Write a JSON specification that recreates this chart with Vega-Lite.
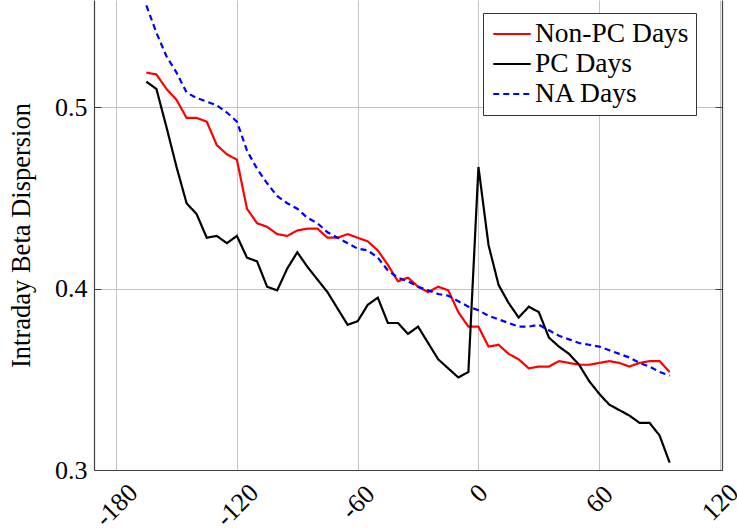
{
  "$schema": "https://vega.github.io/schema/vega-lite/v6.json",
  "width": 628,
  "height": 470,
  "autosize": {"type": "none"},
  "padding": {"left": 94, "top": 0, "right": 15, "bottom": 61},
  "config": {
    "view": {"stroke": null},
    "font": "Liberation Serif",
    "axis": {
      "domainColor": "#404040",
      "domainWidth": 1.2,
      "gridColor": "#c4c4c4",
      "gridWidth": 1,
      "tickColor": "#404040",
      "labelColor": "#000000",
      "titleColor": "#000000",
      "labelFont": "Liberation Serif",
      "titleFont": "Liberation Serif"
    }
  },
  "data": {
    "values": [
      {"day": -165, "series": "Non-PC Days", "value": 0.519},
      {"day": -160, "series": "Non-PC Days", "value": 0.518},
      {"day": -155, "series": "Non-PC Days", "value": 0.510},
      {"day": -150, "series": "Non-PC Days", "value": 0.504},
      {"day": -145, "series": "Non-PC Days", "value": 0.494},
      {"day": -140, "series": "Non-PC Days", "value": 0.494},
      {"day": -135, "series": "Non-PC Days", "value": 0.492},
      {"day": -130, "series": "Non-PC Days", "value": 0.479},
      {"day": -125, "series": "Non-PC Days", "value": 0.474},
      {"day": -120, "series": "Non-PC Days", "value": 0.471},
      {"day": -115, "series": "Non-PC Days", "value": 0.444},
      {"day": -110, "series": "Non-PC Days", "value": 0.436},
      {"day": -105, "series": "Non-PC Days", "value": 0.434},
      {"day": -100, "series": "Non-PC Days", "value": 0.430},
      {"day": -95, "series": "Non-PC Days", "value": 0.429},
      {"day": -90, "series": "Non-PC Days", "value": 0.432},
      {"day": -85, "series": "Non-PC Days", "value": 0.433},
      {"day": -80, "series": "Non-PC Days", "value": 0.433},
      {"day": -75, "series": "Non-PC Days", "value": 0.428},
      {"day": -70, "series": "Non-PC Days", "value": 0.428},
      {"day": -65, "series": "Non-PC Days", "value": 0.430},
      {"day": -60, "series": "Non-PC Days", "value": 0.428},
      {"day": -55, "series": "Non-PC Days", "value": 0.426},
      {"day": -50, "series": "Non-PC Days", "value": 0.421},
      {"day": -45, "series": "Non-PC Days", "value": 0.413},
      {"day": -40, "series": "Non-PC Days", "value": 0.404},
      {"day": -35, "series": "Non-PC Days", "value": 0.406},
      {"day": -30, "series": "Non-PC Days", "value": 0.401},
      {"day": -25, "series": "Non-PC Days", "value": 0.398},
      {"day": -20, "series": "Non-PC Days", "value": 0.401},
      {"day": -15, "series": "Non-PC Days", "value": 0.399},
      {"day": -10, "series": "Non-PC Days", "value": 0.387},
      {"day": -5, "series": "Non-PC Days", "value": 0.379},
      {"day": 0, "series": "Non-PC Days", "value": 0.379},
      {"day": 5, "series": "Non-PC Days", "value": 0.368},
      {"day": 10, "series": "Non-PC Days", "value": 0.369},
      {"day": 15, "series": "Non-PC Days", "value": 0.364},
      {"day": 20, "series": "Non-PC Days", "value": 0.361},
      {"day": 25, "series": "Non-PC Days", "value": 0.356},
      {"day": 30, "series": "Non-PC Days", "value": 0.357},
      {"day": 35, "series": "Non-PC Days", "value": 0.357},
      {"day": 40, "series": "Non-PC Days", "value": 0.360},
      {"day": 45, "series": "Non-PC Days", "value": 0.359},
      {"day": 50, "series": "Non-PC Days", "value": 0.358},
      {"day": 55, "series": "Non-PC Days", "value": 0.358},
      {"day": 60, "series": "Non-PC Days", "value": 0.359},
      {"day": 65, "series": "Non-PC Days", "value": 0.360},
      {"day": 70, "series": "Non-PC Days", "value": 0.359},
      {"day": 75, "series": "Non-PC Days", "value": 0.357},
      {"day": 80, "series": "Non-PC Days", "value": 0.359},
      {"day": 85, "series": "Non-PC Days", "value": 0.360},
      {"day": 90, "series": "Non-PC Days", "value": 0.360},
      {"day": 95, "series": "Non-PC Days", "value": 0.354},

      {"day": -165, "series": "PC Days", "value": 0.514},
      {"day": -160, "series": "PC Days", "value": 0.510},
      {"day": -155, "series": "PC Days", "value": 0.489},
      {"day": -150, "series": "PC Days", "value": 0.467},
      {"day": -145, "series": "PC Days", "value": 0.447},
      {"day": -140, "series": "PC Days", "value": 0.441},
      {"day": -135, "series": "PC Days", "value": 0.428},
      {"day": -130, "series": "PC Days", "value": 0.429},
      {"day": -125, "series": "PC Days", "value": 0.425},
      {"day": -120, "series": "PC Days", "value": 0.429},
      {"day": -115, "series": "PC Days", "value": 0.417},
      {"day": -110, "series": "PC Days", "value": 0.415},
      {"day": -105, "series": "PC Days", "value": 0.401},
      {"day": -100, "series": "PC Days", "value": 0.399},
      {"day": -95, "series": "PC Days", "value": 0.411},
      {"day": -90, "series": "PC Days", "value": 0.420},
      {"day": -85, "series": "PC Days", "value": 0.412},
      {"day": -80, "series": "PC Days", "value": 0.405},
      {"day": -75, "series": "PC Days", "value": 0.398},
      {"day": -70, "series": "PC Days", "value": 0.389},
      {"day": -65, "series": "PC Days", "value": 0.380},
      {"day": -60, "series": "PC Days", "value": 0.382},
      {"day": -55, "series": "PC Days", "value": 0.391},
      {"day": -50, "series": "PC Days", "value": 0.395},
      {"day": -45, "series": "PC Days", "value": 0.381},
      {"day": -40, "series": "PC Days", "value": 0.381},
      {"day": -35, "series": "PC Days", "value": 0.375},
      {"day": -30, "series": "PC Days", "value": 0.379},
      {"day": -25, "series": "PC Days", "value": 0.370},
      {"day": -20, "series": "PC Days", "value": 0.361},
      {"day": -15, "series": "PC Days", "value": 0.356},
      {"day": -10, "series": "PC Days", "value": 0.351},
      {"day": -5, "series": "PC Days", "value": 0.354},
      {"day": 0, "series": "PC Days", "value": 0.467},
      {"day": 5, "series": "PC Days", "value": 0.424},
      {"day": 10, "series": "PC Days", "value": 0.402},
      {"day": 15, "series": "PC Days", "value": 0.392},
      {"day": 20, "series": "PC Days", "value": 0.384},
      {"day": 25, "series": "PC Days", "value": 0.390},
      {"day": 30, "series": "PC Days", "value": 0.387},
      {"day": 35, "series": "PC Days", "value": 0.373},
      {"day": 40, "series": "PC Days", "value": 0.368},
      {"day": 45, "series": "PC Days", "value": 0.364},
      {"day": 50, "series": "PC Days", "value": 0.358},
      {"day": 55, "series": "PC Days", "value": 0.349},
      {"day": 60, "series": "PC Days", "value": 0.342},
      {"day": 65, "series": "PC Days", "value": 0.336},
      {"day": 70, "series": "PC Days", "value": 0.333},
      {"day": 75, "series": "PC Days", "value": 0.330},
      {"day": 80, "series": "PC Days", "value": 0.326},
      {"day": 85, "series": "PC Days", "value": 0.326},
      {"day": 90, "series": "PC Days", "value": 0.319},
      {"day": 95, "series": "PC Days", "value": 0.304},

      {"day": -165, "series": "NA Days", "value": 0.556},
      {"day": -160, "series": "NA Days", "value": 0.541},
      {"day": -155, "series": "NA Days", "value": 0.528},
      {"day": -150, "series": "NA Days", "value": 0.519},
      {"day": -145, "series": "NA Days", "value": 0.508},
      {"day": -140, "series": "NA Days", "value": 0.505},
      {"day": -135, "series": "NA Days", "value": 0.503},
      {"day": -130, "series": "NA Days", "value": 0.501},
      {"day": -125, "series": "NA Days", "value": 0.497},
      {"day": -120, "series": "NA Days", "value": 0.492},
      {"day": -115, "series": "NA Days", "value": 0.476},
      {"day": -110, "series": "NA Days", "value": 0.466},
      {"day": -105, "series": "NA Days", "value": 0.458},
      {"day": -100, "series": "NA Days", "value": 0.451},
      {"day": -95, "series": "NA Days", "value": 0.447},
      {"day": -90, "series": "NA Days", "value": 0.444},
      {"day": -85, "series": "NA Days", "value": 0.439},
      {"day": -80, "series": "NA Days", "value": 0.436},
      {"day": -75, "series": "NA Days", "value": 0.431},
      {"day": -70, "series": "NA Days", "value": 0.428},
      {"day": -65, "series": "NA Days", "value": 0.425},
      {"day": -60, "series": "NA Days", "value": 0.422},
      {"day": -55, "series": "NA Days", "value": 0.421},
      {"day": -50, "series": "NA Days", "value": 0.417},
      {"day": -45, "series": "NA Days", "value": 0.410},
      {"day": -40, "series": "NA Days", "value": 0.406},
      {"day": -35, "series": "NA Days", "value": 0.404},
      {"day": -30, "series": "NA Days", "value": 0.401},
      {"day": -25, "series": "NA Days", "value": 0.399},
      {"day": -20, "series": "NA Days", "value": 0.397},
      {"day": -15, "series": "NA Days", "value": 0.396},
      {"day": -10, "series": "NA Days", "value": 0.393},
      {"day": -5, "series": "NA Days", "value": 0.390},
      {"day": 0, "series": "NA Days", "value": 0.388},
      {"day": 5, "series": "NA Days", "value": 0.385},
      {"day": 10, "series": "NA Days", "value": 0.383},
      {"day": 15, "series": "NA Days", "value": 0.381},
      {"day": 20, "series": "NA Days", "value": 0.379},
      {"day": 25, "series": "NA Days", "value": 0.379},
      {"day": 30, "series": "NA Days", "value": 0.380},
      {"day": 35, "series": "NA Days", "value": 0.377},
      {"day": 40, "series": "NA Days", "value": 0.374},
      {"day": 45, "series": "NA Days", "value": 0.372},
      {"day": 50, "series": "NA Days", "value": 0.370},
      {"day": 55, "series": "NA Days", "value": 0.369},
      {"day": 60, "series": "NA Days", "value": 0.368},
      {"day": 65, "series": "NA Days", "value": 0.366},
      {"day": 70, "series": "NA Days", "value": 0.364},
      {"day": 75, "series": "NA Days", "value": 0.362},
      {"day": 80, "series": "NA Days", "value": 0.359},
      {"day": 85, "series": "NA Days", "value": 0.357},
      {"day": 90, "series": "NA Days", "value": 0.354},
      {"day": 95, "series": "NA Days", "value": 0.352}
    ]
  },
  "layer": [
    {
      "mark": {"type": "line", "strokeWidth": 2.2, "strokeJoin": "miter"},
      "encoding": {
        "x": {
          "field": "day",
          "type": "quantitative",
          "scale": {"domain": [-191, 121], "nice": false, "zero": false},
          "axis": {
            "title": null,
            "values": [-180, -120, -60, 0, 60, 120],
            "labelExpr": "replace(datum.label, '\u2212', '-')",
            "grid": true,
            "ticks": false,
            "labelAngle": -45,
            "labelAlign": "center",
            "labelBaseline": "middle",
            "labelFontSize": 26,
            "labelFlush": false,
            "labelOverlap": false,
            "labelBound": false,
            "labelPadding": {
              "condition": [
                {"test": "length(datum.label) == 1", "value": 23},
                {"test": "length(datum.label) == 2", "value": 29},
                {"test": "length(datum.label) == 3", "value": 32}
              ],
              "value": 35
            }
          }
        },
        "y": {
          "field": "value",
          "type": "quantitative",
          "scale": {"domain": [0.3, 0.559], "nice": false, "zero": false},
          "axis": {
            "title": "Intraday Beta Dispersion",
            "titleFontSize": 26.5,
            "titleFontWeight": "normal",
            "titlePadding": 19,
            "values": [0.3, 0.4, 0.5],
            "format": ".1f",
            "grid": true,
            "tickSize": -7,
            "labelPadding": 14,
            "labelFontSize": 26,
            "labelBaseline": "middle"
          }
        },
        "color": {
          "field": "series",
          "type": "nominal",
          "scale": {
            "domain": ["Non-PC Days", "PC Days", "NA Days"],
            "range": ["#ff0000", "#000000", "#0000ff"]
          },
          "legend": {
            "title": null,
            "orient": "none",
            "legendX": 389,
            "legendY": 13,
            "fillColor": "#ffffff",
            "strokeColor": "#333333",
            "padding": 7,
            "cornerRadius": 0,
            "symbolType": "M-1.5,0H1.5",
            "symbolSize": 625,
            "symbolStrokeWidth": 2.2,
            "symbolOffset": 8,
            "labelFont": "Liberation Serif",
            "labelFontSize": 27.5,
            "labelColor": "#000000",
            "labelOffset": 9,
            "labelLimit": 0,
            "rowPadding": 2
          }
        },
        "strokeDash": {
          "field": "series",
          "type": "nominal",
          "scale": {
            "domain": ["Non-PC Days", "PC Days", "NA Days"],
            "range": [[1, 0], [1, 0], [6, 4]]
          },
          "legend": {
            "title": null,
            "orient": "none",
            "legendX": 389,
            "legendY": 13,
            "fillColor": "#ffffff",
            "strokeColor": "#333333",
            "padding": 7,
            "cornerRadius": 0,
            "symbolType": "M-1.5,0H1.5",
            "symbolSize": 625,
            "symbolStrokeWidth": 2.2,
            "symbolOffset": 8,
            "labelFont": "Liberation Serif",
            "labelFontSize": 27.5,
            "labelColor": "#000000",
            "labelOffset": 9,
            "labelLimit": 0,
            "rowPadding": 2
          }
        }
      }
    },
    {
      "mark": {"type": "line", "opacity": 0},
      "encoding": {
        "x": {"field": "day", "type": "quantitative"},
        "y": {
          "field": "value",
          "type": "quantitative",
          "axis": {
            "orient": "right",
            "title": null,
            "labels": false,
            "grid": false,
            "values": [0.3, 0.4, 0.5],
            "tickSize": -7
          }
        }
      }
    }
  ],
  "resolve": {"axis": {"y": "independent"}}
}
